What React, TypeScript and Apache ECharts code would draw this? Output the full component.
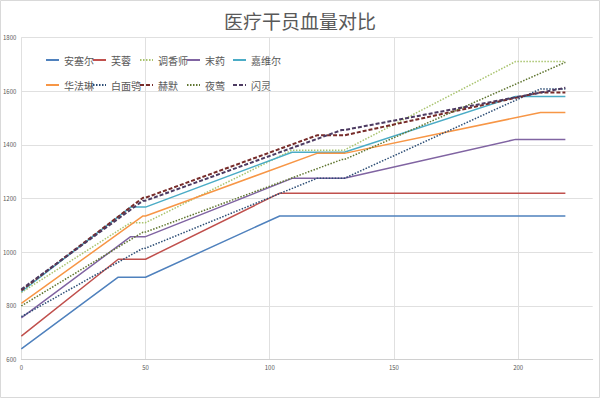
import React, { useEffect, useRef } from "react";
import * as echarts from "echarts";

const TITLE = "医疗干员血量对比";

// x positions (cumulative level index) per rarity
const LEVELS_3 = [0, 39, 50, 104, 219];
const LEVELS_4 = [0, 44, 50, 109, 130, 199, 219];
const LEVELS_5 = [0, 49, 50, 119, 130, 209, 219];
const LEVELS_6 = [0, 49, 50, 129, 130, 219];

// HP values
const HP_ANSEL = [640, 907, 907, 1135, 1135];
const HP_HIBISCUS = [688, 974, 974, 1220, 1220];
const HP_PERFUMER = [850, 1110, 1110, 1380, 1380, 1710, 1710];
const HP_MYRRH = [756, 1058, 1058, 1275, 1275, 1420, 1420];
const HP_GAVIAL = [853, 1168, 1168, 1372, 1372, 1580, 1580];
const HP_WARFARIN = [810, 1135, 1135, 1368, 1368, 1520, 1520];
const HP_PTILOPSIS = [760, 1015, 1015, 1275, 1275, 1608, 1608];
const HP_SILENCE = [858, 1203, 1203, 1435, 1435, 1595, 1595];
const HP_NIGHTINGALE = [800, 1075, 1075, 1345, 1345, 1707];
const HP_SHINING = [862, 1192, 1192, 1455, 1455, 1612];

const NAMES = ["安塞尔", "芙蓉", "调香师", "末药", "嘉维尔", "华法琳", "白面鸮", "赫默", "夜莺", "闪灵"];
const LEVEL_SETS = [LEVELS_3, LEVELS_3, LEVELS_4, LEVELS_4, LEVELS_4, LEVELS_5, LEVELS_5, LEVELS_5, LEVELS_6, LEVELS_6];
const HP_SETS = [HP_ANSEL, HP_HIBISCUS, HP_PERFUMER, HP_MYRRH, HP_GAVIAL, HP_WARFARIN, HP_PTILOPSIS, HP_SILENCE, HP_NIGHTINGALE, HP_SHINING];

const X_MIN = 0;
const X_MAX = 230;
const X_STEP = 50;
const Y_MIN = 600;
const Y_MAX = 1800;
const Y_STEP = 200;

const COLORS = ["#4F81BD", "#C0504D", "#A9C46E", "#8064A2", "#4BACC6", "#F79646", "#2C4D75", "#772C2A", "#5F7530", "#4D3B62"];
const DASHES: any[] = ["solid", "solid", [1.5, 1.5], "solid", "solid", "solid", [1.5, 1.5], [4, 2], [1.5, 1.5], [4, 2]];
const WIDTHS = [1.5, 1.5, 1.5, 1.5, 1.5, 1.5, 1.5, 2, 1.5, 2];

const LEGEND_LEFTS = [45, 92, 139, 186, 232];
const LEGEND_TOPS = [55, 80];

const FONT = "'Noto Sans CJK SC', 'Noto Sans', sans-serif";

export default function App() {
  const ref = useRef<HTMLDivElement>(null);

  useEffect(() => {
    if (!ref.current) return;
    const chart = echarts.init(ref.current, undefined, { renderer: "svg" });

    const series = NAMES.map((name, i) => ({
      name,
      type: "line",
      data: LEVEL_SETS[i].map((x, j) => [x, HP_SETS[i][j]]),
      symbol: "none",
      showSymbol: false,
      lineStyle: { color: COLORS[i], width: WIDTHS[i], type: DASHES[i] },
      itemStyle: { color: COLORS[i] },
    }));

    const legends = NAMES.map((name, i) => ({
      data: [name],
      left: LEGEND_LEFTS[i % 5],
      top: LEGEND_TOPS[Math.floor(i / 5)],
      itemWidth: 13,
      itemHeight: 8,
      itemGap: 0,
      padding: 0,
      itemStyle: { color: "rgba(0,0,0,0)", borderColor: "rgba(0,0,0,0)", borderWidth: 0 },
      textStyle: { color: "#595959", fontSize: 10, fontFamily: FONT },
    }));

    chart.setOption({
      animation: false,
      textStyle: { fontFamily: FONT },
      title: {
        text: TITLE,
        left: "center",
        top: 6,
        textStyle: { color: "#595959", fontSize: 19, fontWeight: "normal", fontFamily: FONT },
      },
      legend: legends,
      grid: { left: 20.7, right: 7.3, top: 37.3, bottom: 38.3, containLabel: false },
      xAxis: {
        type: "value",
        min: X_MIN,
        max: X_MAX,
        interval: X_STEP,
        axisLine: { show: true, lineStyle: { color: "#D0D0D0", width: 1 } },
        axisTick: { show: false },
        axisLabel: { fontSize: 6, color: "#595959", margin: 5, showMaxLabel: false, formatter: (v: number) => String(v) },
        splitLine: { show: true, showMaxLine: false, lineStyle: { color: "#E0E0E0", width: 1 } },
      },
      yAxis: {
        type: "value",
        min: Y_MIN,
        max: Y_MAX,
        interval: Y_STEP,
        axisLine: { show: false },
        axisTick: { show: false },
        axisLabel: { fontSize: 6, color: "#595959", margin: 5, formatter: (v: number) => String(v) },
        splitLine: { show: true, lineStyle: { color: "#E0E0E0", width: 1 } },
      },
      graphic: [
        {
          type: "rect",
          shape: { x: 0.5, y: 0.5, width: 599, height: 397 },
          style: { fill: "none", stroke: "#D9D9D9", lineWidth: 1 },
          silent: true,
        },
      ],
      series,
    });

    return () => chart.dispose();
  }, []);

  return (
    <div
      ref={ref}
      style={{ position: "fixed", left: 0, top: 0, width: 600, height: 398, background: "#fff" }}
    />
  );
}
